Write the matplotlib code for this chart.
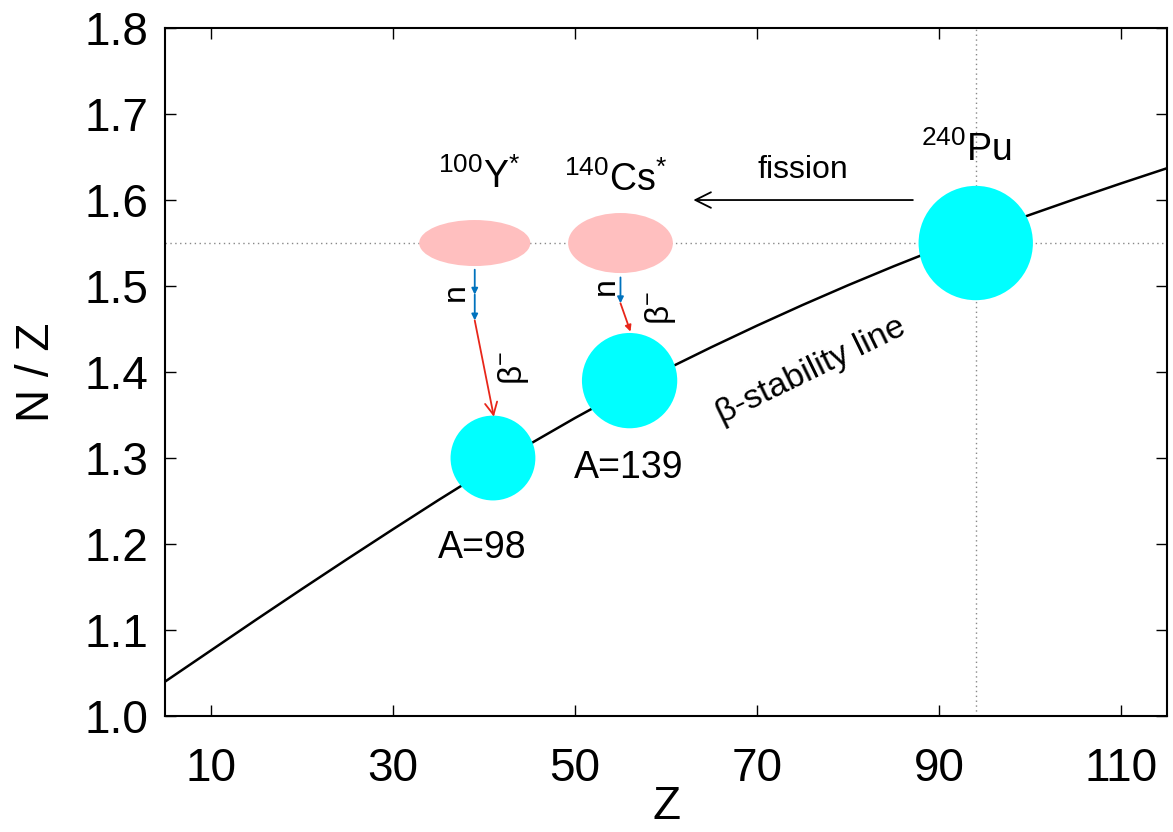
import numpy as np
import matplotlib
matplotlib.use("Agg")
import matplotlib.pyplot as plt
from matplotlib.patches import Ellipse

plt.rcParams["font.family"] = ["Liberation Sans", "DejaVu Sans"]
plt.rcParams["mathtext.fontset"] = "custom"
plt.rcParams["mathtext.rm"] = "Liberation Sans"
plt.rcParams["mathtext.it"] = "Liberation Sans:italic"
plt.rcParams["mathtext.default"] = "regular"

# beta-stability line, N/Z against Z
line_z = [5, 10, 15, 20, 25, 30, 35, 40, 45, 50, 55, 60,
          65, 70, 75, 80, 85, 90, 95, 100, 105, 110, 115]
line_nz = [1.040, 1.076, 1.112, 1.1475, 1.1825, 1.217, 1.251, 1.284, 1.316,
           1.3465, 1.3755, 1.403, 1.429, 1.454, 1.478, 1.501, 1.523, 1.544,
           1.564, 1.583, 1.6015, 1.6195, 1.637]

# stable / parent nuclei (Z, N/Z, mass number)
nuc_z = [41, 56, 94]
nuc_nz = [1.30, 1.39, 1.55]
nuc_a = [98, 139, 240]

# excited fission fragments
frag_z = [39, 55]
frag_nz = [1.55, 1.55]
frag_names = [r"$^{100}$Y$^{*}$", r"$^{140}$Cs$^{*}$"]

xticks = [10, 30, 50, 70, 90, 110]
yticks = [1.0, 1.1, 1.2, 1.3, 1.4, 1.5, 1.6, 1.7, 1.8]

fig = plt.figure(figsize=(11.73, 8.32), dpi=100)
ax = fig.add_axes([0.1407, 0.1394, 0.8542, 0.8269])

ax.set_xlim(5, 115)
ax.set_ylim(1.0, 1.8)

# guide lines through the parent nucleus
dot = dict(color="#888888", lw=1.0, ls=(0, (1, 2.5)), zorder=1)
ax.axhline(nuc_nz[2], **dot)
ax.axvline(nuc_z[2], **dot)

ax.plot(line_z, line_nz, color="black", lw=1.8, zorder=2,
        solid_joinstyle="round")

# circle radius grows like A^(1/3)
r_pt = 9.2 * np.cbrt(nuc_a) * 0.72
ax.scatter(nuc_z, nuc_nz, s=(2 * r_pt) ** 2, color="#00ffff", linewidths=0, zorder=3)

ax.add_patch(Ellipse((frag_z[0], frag_nz[0]), 12.2, 0.0535, color="#ffbfbf", lw=0, zorder=3))
ax.add_patch(Ellipse((frag_z[1], frag_nz[1]), 11.5, 0.0698, color="#ffbfbf", lw=0, zorder=3))

big = 27
ax.text(39.5, 1.627, frag_names[0], fontsize=big, ha="center", va="center")
ax.text(54.5, 1.623, frag_names[1], fontsize=big, ha="center", va="center")
ax.text(93.0, 1.658, r"$^{240}$Pu", fontsize=big, ha="center", va="center")
ax.text(39.8, 1.195, "A=%d" % nuc_a[0], fontsize=big, ha="center", va="center")
ax.text(55.9, 1.288, "A=%d" % nuc_a[1], fontsize=big, ha="center", va="center")

# fission arrow
ax.annotate("", xy=(63.0, 1.60), xytext=(87.1, 1.60),
            arrowprops=dict(arrowstyle="->", color="black", lw=1.3,
                            mutation_scale=28, shrinkA=0, shrinkB=0))
ax.text(75.05, 1.635, "fission", fontsize=23, ha="center", va="center")

blue = "#0072bd"
red = "#e8261a"
small = dict(arrowstyle="-|>", lw=1.3, mutation_scale=9, shrinkA=0, shrinkB=0)

# 100Y*: two neutrons, then beta decay
ax.annotate("", xy=(39.0, 1.490), xytext=(39.0, 1.519), arrowprops=dict(color=blue, **small))
ax.annotate("", xy=(39.0, 1.460), xytext=(39.0, 1.490), arrowprops=dict(color=blue, **small))
ax.annotate("", xy=(41.1, 1.348), xytext=(39.0, 1.460),
            arrowprops=dict(arrowstyle="->", color=red, lw=1.3, mutation_scale=22,
                            shrinkA=0, shrinkB=0))

# 140Cs*: one neutron, then beta decay
ax.annotate("", xy=(55.0, 1.480), xytext=(55.0, 1.510), arrowprops=dict(color=blue, **small))
ax.annotate("", xy=(56.1, 1.447), xytext=(55.0, 1.480), arrowprops=dict(color=red, **small))

ax.text(36.9, 1.493, "n", fontsize=23, rotation=90, ha="center", va="center")
ax.text(53.4, 1.500, "n", fontsize=23, rotation=90, ha="center", va="center")
ax.text(43.3, 1.405, r"β$^{-}$", fontsize=24, rotation=90, ha="center", va="center")
ax.text(59.4, 1.474, r"β$^{-}$", fontsize=24, rotation=90, ha="center", va="center")

ax.text(75.9, 1.402, "β-stability line", fontsize=24.5, rotation=26,
        ha="center", va="center", rotation_mode="anchor")

ax.set_xticks(xticks)
ax.set_yticks(yticks)
ax.set_yticklabels(["%.1f" % v for v in yticks])
ax.tick_params(direction="in", length=8, width=1.0, labelsize=33,
               top=True, right=True, pad=12)
ax.tick_params(axis="x", pad=22)
for s in ax.spines.values():
    s.set_linewidth(1.5)

ax.set_xlabel("Z", fontsize=33, labelpad=-4)
ax.set_ylabel("N / Z", fontsize=33, labelpad=18)

fig.savefig("out.png", dpi=100)
